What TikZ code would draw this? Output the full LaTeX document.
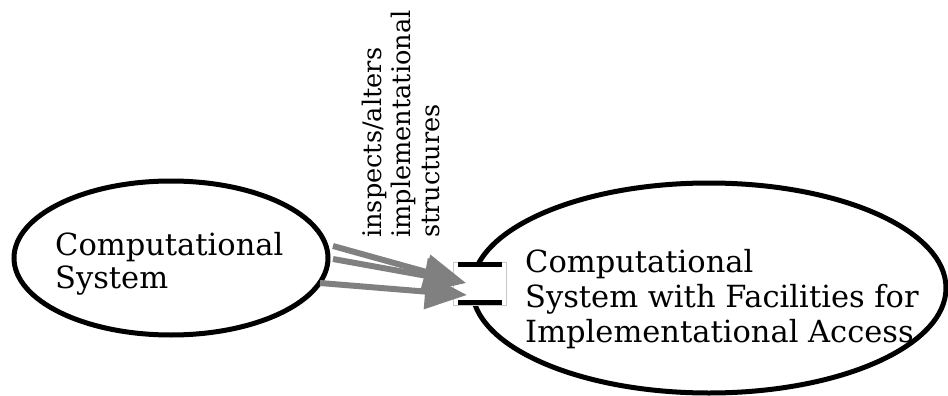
\documentclass[tikz,border=0pt]{standalone}
\usepackage{fontspec}
\setmainfont{DejaVu Serif}
\usetikzlibrary{shapes.geometric,arrows.meta}
\definecolor{flowgray}{RGB}{128,128,128}
\definecolor{portgray}{RGB}{200,200,200}
\tikzset{
  sysellipse/.style={draw=black, line width=5pt, ellipse, inner sep=0pt},
  systext/.style={anchor=base west, align=left, inner sep=0pt,
    font=\fontsize{30.5}{33}\selectfont},
  flow/.style={draw=flowgray, line width=6pt,
    -{Triangle[length=42pt,width=34pt]}},
  portbar/.style={line width=4.5pt},
}
\begin{document}
\begin{tikzpicture}[x=1pt,y=-1pt]
  \useasboundingbox (0,0) rectangle (948,396);
  % the two systems
  \node[sysellipse, minimum width=314pt, minimum height=154pt] (cs) at (171,258) {};
  \node[sysellipse, minimum width=474pt, minimum height=210pt] (csf) at (709,288) {};
  % multi-line labels: base anchor sits on the last line
  \node[systext] (cslabel) at (55,288) {Computational\\System};
  \node[systext, font=\fontsize{30.5}{35}\selectfont] (csflabel) at (525,342)
    {Computational\\System with Facilities for\\Implementational Access};
  % access port on the left rim of the second system
  \node[draw=portgray, line width=0.8pt, minimum width=53pt, minimum height=43pt,
        inner sep=0pt, fill=white] (port) at (480,283.5) {};
  \draw[portbar] ([xshift=5pt,yshift=-3pt]port.north west) -- ([xshift=-5pt,yshift=-3pt]port.north east);
  \draw[portbar] ([xshift=5pt,yshift=3pt]port.south west) -- ([xshift=-5pt,yshift=3pt]port.south east);
  % flows into the port
  \coordinate (s1) at (333,246);
  \coordinate (s2) at (333,259);
  \coordinate (s3) at (320,283);
  \coordinate (t1) at (466,283);
  \coordinate (t2) at (467,295);
  \draw[flow] (s1) -- (t1);
  \draw[flow] (s2) -- (t1);
  \draw[flow] (s3) -- (t2);
  % label of the flows
  \node[rotate=90, anchor=north west, align=left, inner sep=0pt,
        font=\fontsize{25.6}{29}\selectfont] (flowlabel) at (362,238)
    {inspects/alters\\implementational\\structures};
\end{tikzpicture}
\end{document}
